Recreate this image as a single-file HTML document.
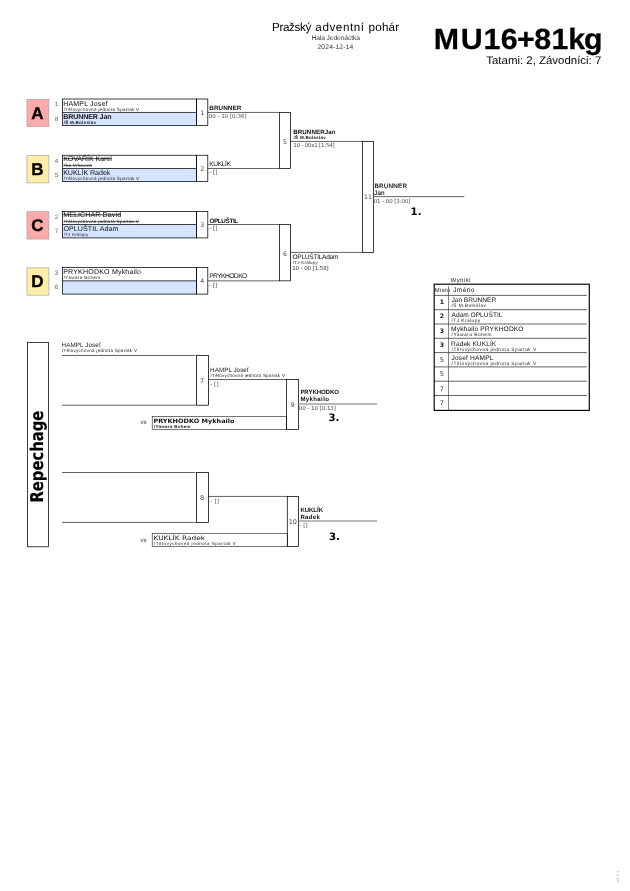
<!DOCTYPE html>
<html lang="cs">
<head>
<meta charset="utf-8">
<title>MU16+81kg</title>
<style>
html,body{margin:0;padding:0;background:#fff;}
body{width:630px;height:891px;overflow:hidden;}
svg{display:block;will-change:transform;font-family:"Liberation Sans",sans-serif;text-rendering:geometricPrecision;}
</style>
</head>
<body>
<svg width="630" height="891" viewBox="0 0 630 891">
<rect x="0" y="0" width="630" height="891" fill="#fff"/>
<text x="271.96 279.39 282.91 289.04 294.51 299.98 305.45 311.30 315.33 322.38 329.44 335.83 342.88 349.93 353.73 360.78 364.03 368.40 375.14 381.88 388.62 395.36" y="31.1" font-size="11.7" fill="#000">Pražský adventní pohár</text>
<text x="311.46" y="40.00" font-size="6.7" textLength="48.41" lengthAdjust="spacing" fill="#333">Hala Jedenáctka</text>
<text x="317.47" y="48.90" font-size="6.7" textLength="35.71" lengthAdjust="spacing" fill="#333">2024-12-14</text>
<text transform="scale(1.04,1)" x="417.18 443.12 464.80 481.61 497.18 513.70 530.33 546.50 561.65" y="48.6" font-size="29.2" font-weight="bold" fill="#000" stroke="#000" stroke-width="0.25">MU16+81kg</text>
<text x="486.27" y="64.00" font-size="11.1" textLength="115.06" lengthAdjust="spacingAndGlyphs" fill="#000">Tatami: 2, Závodníci: 7</text>
<rect x="26.95" y="99.35" width="21.95" height="27.30" fill="#ffaaaa" stroke="#999" stroke-width="0.6"/>
<text x="37.30" y="118.90" font-size="17.0" font-weight="bold" text-anchor="middle" fill="#000" stroke="#000" stroke-width="0.4">A</text>
<text x="56.50" y="106.30" font-size="6.3" text-anchor="middle" fill="#666">1</text>
<text x="56.50" y="120.90" font-size="6.3" text-anchor="middle" fill="#666">8</text>
<rect x="62.50" y="112.45" width="134.00" height="13.10" fill="#d5e5ff"/>
<rect x="62.50" y="99.00" width="134.00" height="26.55" fill="none" stroke="#000" stroke-width="0.75"/>
<line x1="62.50" y1="112.45" x2="196.50" y2="112.45" stroke="#000" stroke-width="0.75"/>
<text x="63.13" y="105.50" font-size="7.1" textLength="44.45" lengthAdjust="spacing" fill="#111">HAMPL Josef</text>
<text x="63.70" y="110.60" font-size="4.5" textLength="75.41" lengthAdjust="spacing" fill="#222">/Tělovýchovná jednota Spartak V</text>
<text x="63.24" y="118.78" font-size="7.1" font-weight="bold" textLength="48.29" lengthAdjust="spacing" fill="#111">BRUNNER Jan</text>
<text x="63.68" y="123.88" font-size="4.5" font-weight="bold" textLength="32.33" lengthAdjust="spacing" fill="#222">/Š M.Boleslav</text>
<rect x="196.50" y="99.00" width="11.30" height="26.55" fill="none" stroke="#000" stroke-width="0.75"/>
<text x="202.15" y="114.65" font-size="6.2" text-anchor="middle" font-family='"DejaVu Sans", "Liberation Sans", sans-serif' fill="#444">1</text>
<line x1="207.80" y1="112.45" x2="279.50" y2="112.45" stroke="#000" stroke-width="0.62"/>
<text x="209.29" y="110.15" font-size="6.3" font-weight="bold" textLength="31.92" lengthAdjust="spacing" fill="#111">BRUNNER</text>
<text x="208.84" y="118.35" font-size="5.5" textLength="37.73" lengthAdjust="spacing" font-family='"DejaVu Sans", "Liberation Sans", sans-serif' fill="#4a4a4a">00 - 10 [0:36]</text>
<rect x="26.95" y="155.60" width="21.95" height="27.30" fill="#ffeeaa" stroke="#999" stroke-width="0.6"/>
<text x="37.30" y="175.15" font-size="17.0" font-weight="bold" text-anchor="middle" fill="#000" stroke="#000" stroke-width="0.4">B</text>
<text x="56.50" y="162.55" font-size="6.3" text-anchor="middle" fill="#666">4</text>
<text x="56.50" y="177.15" font-size="6.3" text-anchor="middle" fill="#666">5</text>
<rect x="62.50" y="168.50" width="134.00" height="13.10" fill="#d5e5ff"/>
<rect x="62.50" y="155.25" width="134.00" height="26.35" fill="none" stroke="#000" stroke-width="0.75"/>
<line x1="62.50" y1="168.50" x2="196.50" y2="168.50" stroke="#000" stroke-width="0.75"/>
<text x="63.13" y="160.75" font-size="7.1" textLength="48.61" lengthAdjust="spacing" fill="#111">KOVAŘÍK Karel</text>
<text x="63.70" y="166.65" font-size="4.5" textLength="28.19" lengthAdjust="spacing" fill="#222">/So Vršovice</text>
<line x1="63.50" y1="158.65" x2="111.70" y2="158.65" stroke="#111" stroke-width="0.8"/>
<line x1="63.50" y1="165.45" x2="92.10" y2="165.45" stroke="#222" stroke-width="0.7"/>
<text x="63.13" y="174.93" font-size="7.1" textLength="47.23" lengthAdjust="spacing" fill="#111">KUKLÍK Radek</text>
<text x="63.70" y="180.03" font-size="4.5" textLength="75.41" lengthAdjust="spacing" fill="#222">/Tělovýchovná jednota Spartak V</text>
<rect x="196.50" y="155.25" width="11.30" height="26.35" fill="none" stroke="#000" stroke-width="0.75"/>
<text x="202.15" y="170.70" font-size="6.2" text-anchor="middle" font-family='"DejaVu Sans", "Liberation Sans", sans-serif' fill="#444">2</text>
<line x1="207.80" y1="168.50" x2="279.50" y2="168.50" stroke="#000" stroke-width="0.62"/>
<text x="209.16" y="165.90" font-size="6.7" textLength="21.88" lengthAdjust="spacing" fill="#111">KUKLÍK</text>
<text x="208.95" y="174.40" font-size="5.5" textLength="8.52" lengthAdjust="spacing" font-family='"DejaVu Sans", "Liberation Sans", sans-serif' fill="#4a4a4a">- []</text>
<rect x="26.95" y="211.75" width="21.95" height="27.30" fill="#ffaaaa" stroke="#999" stroke-width="0.6"/>
<text x="37.30" y="231.30" font-size="17.0" font-weight="bold" text-anchor="middle" fill="#000" stroke="#000" stroke-width="0.4">C</text>
<text x="56.50" y="218.70" font-size="6.3" text-anchor="middle" fill="#666">2</text>
<text x="56.50" y="233.30" font-size="6.3" text-anchor="middle" fill="#666">7</text>
<rect x="62.50" y="224.50" width="134.00" height="13.40" fill="#d5e5ff"/>
<rect x="62.50" y="211.40" width="134.00" height="26.50" fill="none" stroke="#000" stroke-width="0.75"/>
<line x1="62.50" y1="224.50" x2="196.50" y2="224.50" stroke="#000" stroke-width="0.75"/>
<text x="63.13" y="216.90" font-size="7.1" textLength="58.00" lengthAdjust="spacing" fill="#111">MELICHAR David</text>
<text x="63.70" y="222.80" font-size="4.5" textLength="75.01" lengthAdjust="spacing" fill="#222">/Tělovýchovná jednota Spartak V</text>
<line x1="63.50" y1="214.80" x2="121.10" y2="214.80" stroke="#111" stroke-width="0.8"/>
<line x1="63.50" y1="221.60" x2="139.10" y2="221.60" stroke="#222" stroke-width="0.7"/>
<text x="63.38" y="231.15" font-size="7.1" textLength="55.07" lengthAdjust="spacing" fill="#111">OPLUŠTIL Adam</text>
<text x="63.70" y="236.25" font-size="4.5" textLength="24.60" lengthAdjust="spacing" fill="#222">/TJ Kralupy</text>
<rect x="196.50" y="211.40" width="11.30" height="26.50" fill="none" stroke="#000" stroke-width="0.75"/>
<text x="202.15" y="226.70" font-size="6.2" text-anchor="middle" font-family='"DejaVu Sans", "Liberation Sans", sans-serif' fill="#444">3</text>
<line x1="207.80" y1="224.50" x2="279.50" y2="224.50" stroke="#000" stroke-width="0.62"/>
<text x="209.45" y="222.50" font-size="6.3" font-weight="bold" textLength="28.71" lengthAdjust="spacing" fill="#111">OPLUŠTIL</text>
<text x="208.95" y="230.40" font-size="5.5" textLength="8.52" lengthAdjust="spacing" font-family='"DejaVu Sans", "Liberation Sans", sans-serif' fill="#4a4a4a">- []</text>
<rect x="26.95" y="267.85" width="21.95" height="27.30" fill="#ffeeaa" stroke="#999" stroke-width="0.6"/>
<text x="37.30" y="287.40" font-size="17.0" font-weight="bold" text-anchor="middle" fill="#000" stroke="#000" stroke-width="0.4">D</text>
<text x="56.50" y="274.80" font-size="6.3" text-anchor="middle" fill="#666">3</text>
<text x="56.50" y="289.40" font-size="6.3" text-anchor="middle" fill="#666">6</text>
<rect x="62.50" y="280.85" width="134.00" height="13.25" fill="#d5e5ff"/>
<rect x="62.50" y="267.50" width="134.00" height="26.60" fill="none" stroke="#000" stroke-width="0.75"/>
<line x1="62.50" y1="280.85" x2="196.50" y2="280.85" stroke="#000" stroke-width="0.75"/>
<text x="63.13" y="274.00" font-size="7.1" textLength="77.86" lengthAdjust="spacing" fill="#111">PRYKHODKO Mykhailo</text>
<text x="63.70" y="279.10" font-size="4.5" textLength="36.28" lengthAdjust="spacing" fill="#222">/Yawara Bohem</text>
<rect x="196.50" y="267.50" width="11.30" height="26.60" fill="none" stroke="#000" stroke-width="0.75"/>
<text x="202.15" y="283.05" font-size="6.2" text-anchor="middle" font-family='"DejaVu Sans", "Liberation Sans", sans-serif' fill="#444">4</text>
<line x1="207.80" y1="280.85" x2="279.50" y2="280.85" stroke="#000" stroke-width="0.62"/>
<text x="209.16" y="278.45" font-size="6.7" textLength="38.06" lengthAdjust="spacing" fill="#111">PRYKHODKO</text>
<text x="208.95" y="286.75" font-size="5.5" textLength="8.52" lengthAdjust="spacing" font-family='"DejaVu Sans", "Liberation Sans", sans-serif' fill="#4a4a4a">- []</text>
<rect x="279.50" y="112.45" width="11.00" height="56.05" fill="none" stroke="#000" stroke-width="0.75"/>
<rect x="279.50" y="224.50" width="11.00" height="56.35" fill="none" stroke="#000" stroke-width="0.75"/>
<line x1="290.50" y1="141.45" x2="362.50" y2="141.45" stroke="#000" stroke-width="0.62"/>
<line x1="290.50" y1="252.40" x2="362.50" y2="252.40" stroke="#000" stroke-width="0.62"/>
<text x="285.00" y="143.60" font-size="6.2" text-anchor="middle" font-family='"DejaVu Sans", "Liberation Sans", sans-serif' fill="#444">5</text>
<text x="285.00" y="256.00" font-size="6.2" text-anchor="middle" font-family='"DejaVu Sans", "Liberation Sans", sans-serif' fill="#444">6</text>
<text x="293.20" y="133.80" font-size="6.2" font-weight="bold" textLength="42.38" lengthAdjust="spacing" fill="#111">BRUNNERJan</text>
<text x="293.58" y="139.00" font-size="4.5" font-weight="bold" textLength="32.23" lengthAdjust="spacing" fill="#111">/Š M.Boleslav</text>
<text x="293.22" y="147.20" font-size="5.5" textLength="41.55" lengthAdjust="spacing" font-family='"DejaVu Sans", "Liberation Sans", sans-serif' fill="#4a4a4a">10 - 00s1 [1:54]</text>
<text x="292.50" y="258.90" font-size="6.6" textLength="45.91" lengthAdjust="spacing" fill="#111">OPLUŠTILAdam</text>
<text x="292.80" y="263.90" font-size="4.5" textLength="25.00" lengthAdjust="spacing" fill="#222">/TJ Kralupy</text>
<text x="292.22" y="270.00" font-size="5.5" textLength="36.55" lengthAdjust="spacing" font-family='"DejaVu Sans", "Liberation Sans", sans-serif' fill="#333">10 - 00 [1:58]</text>
<rect x="362.50" y="141.45" width="11.05" height="110.95" fill="none" stroke="#000" stroke-width="0.75"/>
<line x1="373.55" y1="196.65" x2="464.40" y2="196.65" stroke="#666" stroke-width="1.0"/>
<text x="363.97" y="199.30" font-size="6.2" textLength="8.02" lengthAdjust="spacing" font-family='"DejaVu Sans", "Liberation Sans", sans-serif' fill="#444">11</text>
<text x="374.50" y="188.00" font-size="6.3" textLength="32.47" lengthAdjust="spacing" fill="#111" stroke="#111" stroke-width="0.2">BRUNNER</text>
<text x="374.21" y="194.70" font-size="6.3" textLength="10.28" lengthAdjust="spacing" fill="#111" stroke="#111" stroke-width="0.12">Jan</text>
<text x="373.64" y="203.00" font-size="5.5" textLength="36.83" lengthAdjust="spacing" font-family='"DejaVu Sans", "Liberation Sans", sans-serif' fill="#4a4a4a">01 - 00 [3:00]</text>
<text x="410.60" y="215.00" font-size="10.2" font-weight="bold" font-family='"DejaVu Sans", "Liberation Sans", sans-serif' fill="#000">1.</text>
<text x="450.60" y="281.70" font-size="6.0" textLength="19.80" lengthAdjust="spacing" fill="#222">Wyniki</text>
<line x1="434.20" y1="295.40" x2="586.90" y2="295.40" stroke="#222" stroke-width="0.7"/>
<line x1="434.20" y1="309.70" x2="586.90" y2="309.70" stroke="#222" stroke-width="0.7"/>
<line x1="434.20" y1="324.00" x2="586.90" y2="324.00" stroke="#222" stroke-width="0.7"/>
<line x1="434.20" y1="338.30" x2="586.90" y2="338.30" stroke="#222" stroke-width="0.7"/>
<line x1="434.20" y1="352.60" x2="586.90" y2="352.60" stroke="#222" stroke-width="0.7"/>
<line x1="434.20" y1="366.90" x2="586.90" y2="366.90" stroke="#222" stroke-width="0.7"/>
<line x1="434.20" y1="381.20" x2="586.90" y2="381.20" stroke="#222" stroke-width="0.7"/>
<line x1="434.20" y1="395.50" x2="586.90" y2="395.50" stroke="#222" stroke-width="0.7"/>
<text x="434.74" y="291.60" font-size="5.8" textLength="15.30" lengthAdjust="spacing" fill="#222">Místo</text>
<text x="453.20" y="291.60" font-size="6.6" textLength="21.17" lengthAdjust="spacing" fill="#111">Jméno</text>
<text x="441.80" y="304.00" font-size="6.2" font-weight="bold" text-anchor="middle" font-family='"DejaVu Sans", "Liberation Sans", sans-serif' fill="#111">1</text>
<text x="451.50" y="302.35" font-size="6.6" textLength="44.68" lengthAdjust="spacing" fill="#111">Jan BRUNNER</text>
<text x="451.60" y="307.30" font-size="4.8" textLength="34.30" lengthAdjust="spacing" fill="#222">/Š M.Boleslav</text>
<text x="441.80" y="318.43" font-size="6.2" font-weight="bold" text-anchor="middle" font-family='"DejaVu Sans", "Liberation Sans", sans-serif' fill="#111">2</text>
<text x="451.60" y="316.78" font-size="6.6" textLength="50.81" lengthAdjust="spacing" fill="#111">Adam OPLUŠTIL</text>
<text x="451.60" y="321.73" font-size="4.8" textLength="28.60" lengthAdjust="spacing" fill="#222">/TJ Kralupy</text>
<text x="441.80" y="332.86" font-size="6.2" font-weight="bold" text-anchor="middle" font-family='"DejaVu Sans", "Liberation Sans", sans-serif' fill="#111">3</text>
<text x="451.07" y="331.21" font-size="6.6" textLength="72.44" lengthAdjust="spacing" fill="#111">Mykhailo PRYKHODKO</text>
<text x="451.60" y="336.16" font-size="4.8" textLength="39.90" lengthAdjust="spacing" fill="#222">/Yawara Bohem</text>
<text x="441.80" y="347.29" font-size="6.2" font-weight="bold" text-anchor="middle" font-family='"DejaVu Sans", "Liberation Sans", sans-serif' fill="#111">3</text>
<text x="451.07" y="345.64" font-size="6.6" textLength="45.17" lengthAdjust="spacing" fill="#111">Radek KUKLÍK</text>
<text x="451.60" y="350.59" font-size="4.8" textLength="84.61" lengthAdjust="spacing" fill="#222">/Tělovýchovná jednota Spartak V</text>
<text x="441.80" y="361.72" font-size="6.6" text-anchor="middle" font-family='"DejaVu Sans", "Liberation Sans", sans-serif' fill="#444">5</text>
<text x="451.50" y="360.07" font-size="6.6" textLength="41.90" lengthAdjust="spacing" fill="#111">Josef HAMPL</text>
<text x="451.60" y="365.02" font-size="4.8" textLength="84.61" lengthAdjust="spacing" fill="#222">/Tělovýchovná jednota Spartak V</text>
<text x="441.80" y="376.15" font-size="6.6" text-anchor="middle" font-family='"DejaVu Sans", "Liberation Sans", sans-serif' fill="#444">5</text>
<text x="441.80" y="390.58" font-size="6.6" text-anchor="middle" font-family='"DejaVu Sans", "Liberation Sans", sans-serif' fill="#444">7</text>
<text x="441.80" y="405.01" font-size="6.6" text-anchor="middle" font-family='"DejaVu Sans", "Liberation Sans", sans-serif' fill="#444">7</text>
<line x1="448.50" y1="286.00" x2="448.50" y2="410.40" stroke="#333" stroke-width="0.6"/>
<rect x="434.20" y="284.20" width="155.10" height="126.20" fill="none" stroke="#000" stroke-width="1.15"/>
<rect x="27.50" y="342.40" width="20.95" height="204.40" fill="none" stroke="#000" stroke-width="0.75"/>
<text transform="translate(43.0,502.6) rotate(-90)" font-size="17.6" font-weight="bold" stroke="#000" stroke-width="0.15" textLength="92.0" lengthAdjust="spacingAndGlyphs" font-family='"DejaVu Sans", "Liberation Sans", sans-serif'>Repechage</text>
<line x1="62.00" y1="355.50" x2="194.90" y2="355.50" stroke="#000" stroke-width="0.62"/>
<line x1="62.00" y1="405.20" x2="195.90" y2="405.20" stroke="#000" stroke-width="0.62"/>
<rect x="196.60" y="355.40" width="11.80" height="49.80" fill="none" stroke="#000" stroke-width="0.78"/>
<text x="201.95" y="382.90" font-size="6.5" text-anchor="middle" font-family='"DejaVu Sans", "Liberation Sans", sans-serif' fill="#444">7</text>
<text x="61.50" y="346.95" font-size="6.3" textLength="39.19" lengthAdjust="spacing" fill="#222">HAMPL Josef</text>
<text x="62.00" y="352.30" font-size="4.5" textLength="74.91" lengthAdjust="spacing" fill="#222">/Tělovýchovná jednota Spartak V</text>
<line x1="208.40" y1="379.50" x2="286.55" y2="379.50" stroke="#000" stroke-width="0.62"/>
<text x="210.10" y="371.70" font-size="6.3" textLength="38.49" lengthAdjust="spacing" fill="#222">HAMPL Josef</text>
<text x="210.60" y="376.70" font-size="4.5" textLength="74.31" lengthAdjust="spacing" fill="#222">/Tělovýchovná jednota Spartak V</text>
<text x="210.05" y="386.20" font-size="5.5" textLength="8.52" lengthAdjust="spacing" font-family='"DejaVu Sans", "Liberation Sans", sans-serif' fill="#4a4a4a">- []</text>
<rect x="152.20" y="416.45" width="134.35" height="13.05" fill="none" stroke="#1a1a1a" stroke-width="0.6"/>
<rect x="286.55" y="379.50" width="11.90" height="50.00" fill="none" stroke="#000" stroke-width="0.75"/>
<text x="140.60" y="424.30" font-size="6.0" textLength="5.81" lengthAdjust="spacing" fill="#333">vs</text>
<text x="153.41" y="423.00" font-size="6.0" font-weight="bold" textLength="81.16" lengthAdjust="spacingAndGlyphs" font-family='"DejaVu Sans", "Liberation Sans", sans-serif' fill="#111">PRYKHODKO Mykhailo</text>
<text x="153.98" y="427.60" font-size="4.4" font-weight="bold" textLength="36.48" lengthAdjust="spacing" fill="#111">/Yawara Bohem</text>
<line x1="298.45" y1="403.95" x2="377.20" y2="403.95" stroke="#777" stroke-width="1.1"/>
<text x="292.50" y="406.50" font-size="6.5" text-anchor="middle" font-family='"DejaVu Sans", "Liberation Sans", sans-serif' fill="#444">9</text>
<text x="300.40" y="393.70" font-size="6.1" font-weight="bold" textLength="38.53" lengthAdjust="spacing" fill="#111">PRYKHODKO</text>
<text x="300.40" y="400.70" font-size="6.1" font-weight="bold" textLength="28.52" lengthAdjust="spacing" fill="#111">Mykhailo</text>
<text x="298.84" y="409.60" font-size="5.5" textLength="37.13" lengthAdjust="spacing" font-family='"DejaVu Sans", "Liberation Sans", sans-serif' fill="#4a4a4a">00 - 10 [0:13]</text>
<text x="328.40" y="420.70" font-size="10.2" font-weight="bold" font-family='"DejaVu Sans", "Liberation Sans", sans-serif' fill="#000">3.</text>
<line x1="62.00" y1="472.50" x2="195.30" y2="472.50" stroke="#000" stroke-width="0.62"/>
<line x1="62.00" y1="522.40" x2="195.90" y2="522.40" stroke="#000" stroke-width="0.62"/>
<rect x="196.60" y="472.40" width="11.80" height="50.00" fill="none" stroke="#000" stroke-width="0.78"/>
<text x="202.15" y="499.60" font-size="6.5" text-anchor="middle" font-family='"DejaVu Sans", "Liberation Sans", sans-serif' fill="#444">8</text>
<line x1="208.40" y1="496.45" x2="287.30" y2="496.45" stroke="#000" stroke-width="0.62"/>
<text x="210.35" y="503.40" font-size="5.5" textLength="8.52" lengthAdjust="spacing" font-family='"DejaVu Sans", "Liberation Sans", sans-serif' fill="#4a4a4a">- []</text>
<rect x="152.20" y="533.40" width="135.10" height="13.00" fill="none" stroke="#1a1a1a" stroke-width="0.6"/>
<rect x="287.30" y="496.45" width="11.30" height="49.95" fill="none" stroke="#000" stroke-width="0.75"/>
<text x="140.60" y="541.70" font-size="6.0" textLength="5.81" lengthAdjust="spacing" fill="#333">vs</text>
<text x="153.49" y="540.00" font-size="6.1" textLength="51.70" lengthAdjust="spacingAndGlyphs" font-family='"DejaVu Sans", "Liberation Sans", sans-serif' fill="#111">KUKLÍK Radek</text>
<text x="154.00" y="544.50" font-size="4.4" textLength="81.71" lengthAdjust="spacing" fill="#111">/Tělovýchovná jednota Spartak V</text>
<line x1="298.60" y1="521.00" x2="377.20" y2="521.00" stroke="#777" stroke-width="1.1"/>
<text x="288.82" y="524.00" font-size="6.5" textLength="8.01" lengthAdjust="spacing" font-family='"DejaVu Sans", "Liberation Sans", sans-serif' fill="#444">10</text>
<text x="300.40" y="511.70" font-size="6.1" font-weight="bold" textLength="22.64" lengthAdjust="spacing" fill="#111">KUKLÍK</text>
<text x="300.40" y="518.70" font-size="6.1" font-weight="bold" textLength="19.57" lengthAdjust="spacing" fill="#111">Radek</text>
<text x="299.55" y="527.20" font-size="5.5" textLength="8.12" lengthAdjust="spacing" font-family='"DejaVu Sans", "Liberation Sans", sans-serif' fill="#4a4a4a">- []</text>
<text x="329.00" y="539.70" font-size="10.2" font-weight="bold" font-family='"DejaVu Sans", "Liberation Sans", sans-serif' fill="#000">3.</text>
<text transform="translate(619.0,882.6) rotate(-90)" font-size="3.4" fill="#aaa" textLength="12" lengthAdjust="spacingAndGlyphs">v3.3.1</text>
</svg>
</body>
</html>
